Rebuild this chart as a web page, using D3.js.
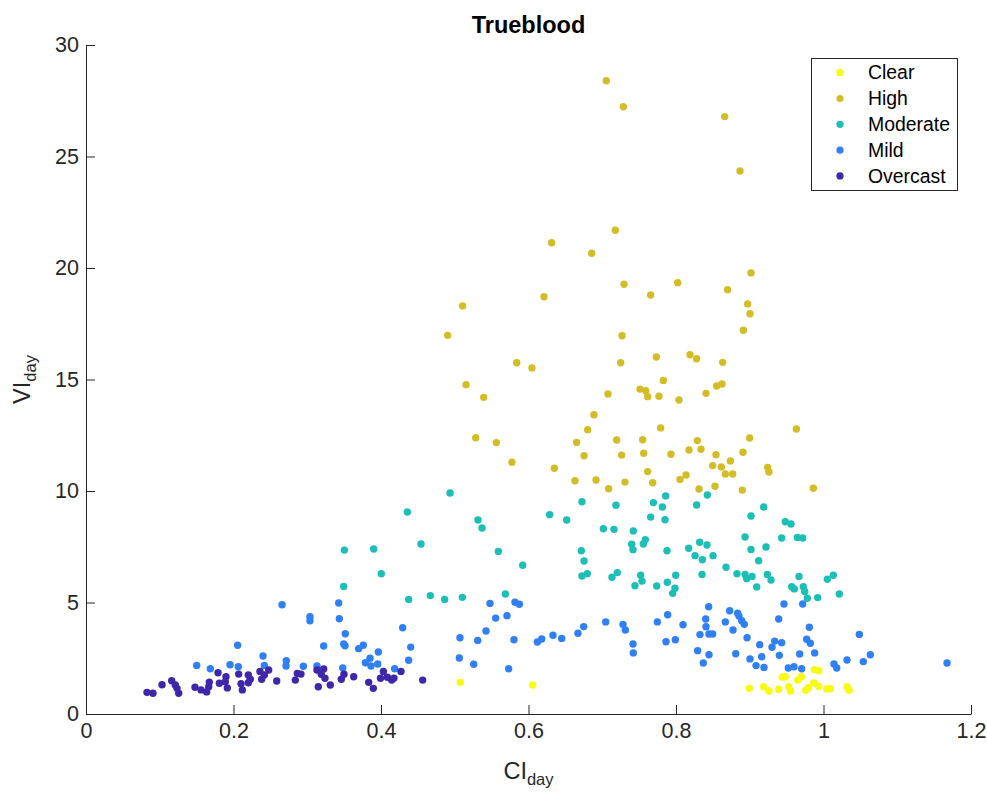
<!DOCTYPE html>
<html>
<head>
<meta charset="utf-8">
<script src="https://cdn.jsdelivr.net/npm/d3@7"></script>
<style>
  body { margin: 0; background: #fff; }
  svg { display: block; }
</style>
</head>
<body>
<svg id="chart" width="987" height="792"></svg>
<script>
// Daily clearness index (CI) vs. variability index (VI), grouped by sky class
const categories = ["Clear", "High", "Moderate", "Mild", "Overcast"];

const clear = [
  [0.5075,1.42],[0.6057,1.30],[0.9876,1.99],[0.9934,1.94],[0.9442,1.66],[0.9482,1.67],
  [0.9650,1.52],[0.9699,1.67],[0.8994,1.15],[0.9189,1.22],[0.9261,1.03],[0.9392,1.11],
  [0.9528,1.22],[0.9555,1.03],[0.9759,1.06],[0.9794,1.18],[0.9867,1.39],[0.9934,1.24],
  [1.0043,1.12],[1.0092,1.13],[1.0319,1.22],[1.0346,1.06]
];

const high = [
  [0.7055,28.40],[0.7286,27.23],[0.8660,26.79],[0.8868,24.35],[0.7177,21.69],[0.6314,21.13],
  [0.6857,20.66],[0.7295,19.27],[0.8023,19.34],[0.7656,18.79],[0.6210,18.71],[0.5107,18.30],
  [0.4904,16.98],[0.7268,16.96],[0.7733,16.01],[0.7250,15.75],[0.5840,15.75],[0.6047,15.52],
  [0.7828,14.96],[0.5153,14.77],[0.7512,14.57],[0.7589,14.50],[0.7616,14.23],[0.7769,14.25],
  [0.8040,14.08],[0.5392,14.20],[0.7078,14.35],[0.6888,13.42],[0.9017,19.78],[0.8700,19.03],
  [0.8972,18.39],[0.9003,17.95],[0.8913,17.21],[0.8190,16.11],[0.8280,15.93],[0.8633,15.77],
  [0.8552,14.71],[0.8624,14.80],[0.8407,14.38],[0.6802,12.75],[0.5284,12.39],[0.5564,12.17],
  [0.6653,12.18],[0.7196,12.29],[0.7548,12.30],[0.7792,12.83],[0.6753,11.58],[0.7263,11.61],
  [0.7562,11.69],[0.7932,11.65],[0.5776,11.29],[0.6350,11.02],[0.6630,10.46],[0.6915,10.49],
  [0.7308,10.40],[0.7616,10.87],[0.7684,10.37],[0.7087,10.10],[0.8054,10.52],[0.9632,12.78],
  [0.8999,12.38],[0.8289,12.26],[0.8176,11.84],[0.8339,11.87],[0.8542,11.63],[0.8908,11.74],
  [0.8737,11.35],[0.8497,11.14],[0.8615,11.08],[0.8669,10.76],[0.8769,10.76],[0.9243,11.06],
  [0.9261,10.85],[0.8136,10.72],[0.8312,10.09],[0.8529,10.21],[0.8899,10.04],[0.9862,10.12]
];

const moderate = [
  [0.4936,9.91],[0.4357,9.06],[0.5315,8.70],[0.5370,8.34],[0.4542,7.62],[0.5591,7.29],
  [0.5921,6.67],[0.4004,6.29],[0.6287,8.94],[0.6518,8.70],[0.6725,9.52],[0.7186,9.36],
  [0.7015,8.31],[0.7159,8.28],[0.7421,8.21],[0.7693,9.48],[0.7860,9.78],[0.7815,9.28],
  [0.7656,8.83],[0.7851,8.71],[0.7399,7.61],[0.7417,7.37],[0.7557,7.62],[0.7584,7.82],
  [0.7878,7.32],[0.6716,7.32],[0.6753,6.86],[0.6725,6.19],[0.6797,6.29],[0.7132,6.13],
  [0.7204,6.34],[0.7521,6.22],[0.7539,5.96],[0.7444,5.75],[0.7738,5.74],[0.7882,5.91],
  [0.7996,6.22],[0.7986,5.64],[0.7955,5.41],[0.4375,5.14],[0.4669,5.31],[0.4863,5.14],
  [0.5103,5.23],[0.5686,5.38],[0.8425,9.82],[0.8280,9.37],[0.9189,9.28],[0.9017,8.88],
  [0.9482,8.62],[0.9559,8.52],[0.8936,7.94],[0.9433,7.89],[0.9645,7.92],[0.9718,7.89],
  [0.9220,7.49],[0.9017,7.38],[0.8172,7.43],[0.8321,7.70],[0.8420,7.58],[0.8258,7.10],
  [0.8357,6.92],[0.8502,7.10],[0.9121,6.87],[0.8678,6.58],[0.8353,6.26],[0.8827,6.29],
  [0.8936,6.26],[0.8959,6.07],[0.9031,6.17],[0.9238,6.26],[0.9288,6.01],[0.9668,6.17],
  [1.0052,6.04],[1.0133,6.22],[0.9094,5.70],[0.9569,5.71],[0.9604,5.61],[0.9726,5.71],
  [0.9745,5.49],[0.9780,5.19],[0.9921,5.22],[1.0214,5.38],[0.3503,7.35],[0.3901,7.40],
  [0.3494,5.72]
];

const mild = [
  [0.9464,4.93],[0.9718,4.93],[0.8443,4.81],[0.8728,4.63],[0.8836,4.52],[0.8854,4.39],
  [0.8891,4.18],[0.8926,4.02],[0.8403,4.26],[0.8407,3.91],[0.8669,4.13],[0.9392,4.26],
  [0.8095,4.00],[0.8773,3.77],[0.8325,3.56],[0.8447,3.59],[0.8497,3.59],[0.7991,3.33],
  [0.8963,3.42],[0.9135,3.11],[0.9338,3.27],[0.9433,3.20],[0.9302,2.99],[0.9808,3.89],
  [0.9772,3.35],[0.9821,3.17],[1.0486,3.57],[0.8294,2.84],[0.8447,2.66],[0.8370,2.29],
  [0.8810,2.70],[0.9003,2.47],[0.9162,2.57],[0.9085,2.17],[0.9193,2.09],[0.9401,2.63],
  [0.9677,2.69],[0.9880,2.74],[0.9523,2.06],[0.9600,2.12],[0.9704,2.03],[1.0142,2.24],
  [1.0179,2.06],[1.0319,2.42],[1.0540,2.35],[1.0635,2.66],[1.1675,2.29],
  [0.5478,4.96],[0.5817,5.01],[0.5876,4.92],[0.5555,4.30],[0.5708,4.41],[0.5424,3.72],
  [0.5311,3.30],[0.5071,3.42],[0.5803,3.33],[0.4294,3.87],[0.4403,3.00],[0.4375,2.41],
  [0.5062,2.51],[0.5257,2.23],[0.5731,2.03],[0.4185,2.03],[0.6120,3.23],[0.6179,3.36],
  [0.6332,3.53],[0.6450,3.39],[0.6671,3.62],[0.6748,3.92],[0.7047,4.13],[0.7281,4.02],
  [0.7313,3.77],[0.7417,3.14],[0.7421,2.74],[0.7747,4.13],[0.7887,4.45],[0.7864,3.24],
  [0.2658,4.90],[0.3426,4.98],[0.3037,4.36],[0.3037,4.18],[0.3435,4.27],[0.3516,3.60],
  [0.3494,3.14],[0.3512,3.06],[0.3223,3.05],[0.2056,3.08],[0.2400,2.60],[0.3697,2.93],
  [0.3760,3.08],[0.3964,2.78],[0.2716,2.39],[0.2712,2.15],[0.2418,2.18],[0.1501,2.18],
  [0.1686,2.03],[0.1953,2.21],[0.2065,2.12],[0.2947,2.14],[0.3132,2.15],[0.3481,2.06],
  [0.3788,2.30],[0.3851,2.50],[0.3864,2.15],[0.3955,2.24]
];

const overcast = [
  [0.0827,0.97],[0.0908,0.93],[0.1031,1.31],[0.1162,1.49],[0.1211,1.30],[0.1257,0.93],
  [0.1234,1.15],[0.1478,1.20],[0.1560,1.08],[0.1636,0.99],[0.1664,1.22],[0.1672,1.43],
  [0.1790,1.85],[0.1808,1.38],[0.1898,1.67],[0.1889,1.45],[0.1916,1.17],[0.2070,1.79],
  [0.2120,1.08],[0.2102,1.36],[0.2201,1.75],[0.2228,1.56],[0.2201,1.40],[0.2359,1.91],
  [0.2477,1.97],[0.2418,1.75],[0.2382,1.56],[0.2586,1.48],[0.2838,1.52],[0.2865,1.82],
  [0.2915,1.79],[0.3150,1.22],[0.3132,1.97],[0.3223,2.02],[0.3190,1.78],[0.3240,1.60],
  [0.3313,1.30],[0.3462,1.56],[0.3498,1.78],[0.3630,1.67],[0.3833,1.42],[0.3896,1.15],
  [0.3993,1.60],[0.4032,1.91],[0.4271,1.91],[0.4086,1.65],[0.4145,1.52],[0.4176,1.61],
  [0.4565,1.52]
];

const xTicks = [0, 0.2, 0.4, 0.6, 0.8, 1, 1.2];
const xTickLabels = ["0", "0.2", "0.4", "0.6", "0.8", "1", "1.2"];
const yTicks = [0, 5, 10, 15, 20, 25, 30];
const yTickLabels = ["0", "5", "10", "15", "20", "25", "30"];

const seriesByName = { Clear: clear, High: high, Moderate: moderate, Mild: mild, Overcast: overcast };

// ---- layout & style ----
const FONT = '"Liberation Sans", Arial, Helvetica, sans-serif';
const INK = "#262626";
const palette = {
  Clear: "#F9FB0E",
  High: "#D3BD27",
  Moderate: "#1BBFB6",
  Mild: "#2F7FF5",
  Overcast: "#3E27A8"
};

const plot = { left: 86, right: 971, top: 45, bottom: 714 };

const svg = d3.select("#chart");

const x = d3.scaleLinear().domain([0, 1.2]).range([plot.left, plot.right]);
const y = d3.scaleLinear().domain([0, 30]).range([plot.bottom, plot.top]);

// axes (ticks point inward, no box)
const xAxis = d3.axisBottom(x)
  .tickValues(xTicks)
  .tickFormat((d, i) => xTickLabels[i])
  .tickSizeInner(-9).tickSizeOuter(0).tickPadding(9);
const yAxis = d3.axisLeft(y)
  .tickValues(yTicks)
  .tickFormat((d, i) => yTickLabels[i])
  .tickSizeInner(-9).tickSizeOuter(0).tickPadding(7);

const gx = svg.append("g").attr("transform", `translate(0,${plot.bottom})`).call(xAxis);
const gy = svg.append("g").attr("transform", `translate(${plot.left},0)`).call(yAxis);

[gx, gy].forEach(g => {
  g.attr("font-family", FONT).attr("font-size", 21.5);
  g.selectAll("path.domain").attr("stroke", INK).attr("stroke-width", 1);
  g.selectAll(".tick line").attr("stroke", INK).attr("stroke-width", 1);
  g.selectAll(".tick text").attr("fill", INK);
});

// scatter points, drawn group by group
const pts = svg.append("g");
categories.forEach(name => {
  pts.append("g")
    .attr("fill", palette[name])
    .selectAll("circle")
    .data(seriesByName[name])
    .join("circle")
    .attr("cx", d => x(d[0]))
    .attr("cy", d => y(d[1]))
    .attr("r", 3.7);
});

// title
svg.append("text")
  .attr("x", (plot.left + plot.right) / 2)
  .attr("y", 33)
  .attr("text-anchor", "middle")
  .attr("font-family", FONT)
  .attr("font-size", 23.5)
  .attr("font-weight", "bold")
  .attr("fill", "#000")
  .text("Trueblood");

// x label: CI_day
const xl = svg.append("text")
  .attr("x", (plot.left + plot.right) / 2)
  .attr("y", 779)
  .attr("text-anchor", "middle")
  .attr("font-family", FONT)
  .attr("font-size", 23.5)
  .attr("fill", INK);
xl.append("tspan").text("CI");
xl.append("tspan").attr("font-size", 16.5).attr("dy", 6).text("day");

// y label: VI_day (rotated)
const yl = svg.append("text")
  .attr("transform", `translate(30,${(plot.top + plot.bottom) / 2}) rotate(-90)`)
  .attr("text-anchor", "middle")
  .attr("font-family", FONT)
  .attr("font-size", 23.5)
  .attr("fill", INK);
yl.append("tspan").text("VI");
yl.append("tspan").attr("font-size", 16.5).attr("dy", 6).text("day");

// legend
const legend = { x: 811.5, y: 58.5, w: 146, h: 132, row0: 72.7, rowStep: 25.8 };
const lg = svg.append("g");
lg.append("rect")
  .attr("x", legend.x).attr("y", legend.y)
  .attr("width", legend.w).attr("height", legend.h)
  .attr("fill", "#fff").attr("stroke", INK).attr("stroke-width", 1);

const rows = lg.selectAll("g.row")
  .data(categories)
  .join("g")
  .attr("class", "row")
  .attr("transform", (d, i) => `translate(0,${legend.row0 + i * legend.rowStep})`);
rows.append("circle")
  .attr("cx", 840).attr("cy", 0).attr("r", 3.6)
  .attr("fill", d => palette[d]);
rows.append("text")
  .attr("x", 868).attr("y", 0).attr("dy", "0.35em")
  .attr("font-family", FONT).attr("font-size", 19.4)
  .attr("fill", "#000")
  .text(d => d);
</script>
</body>
</html>
